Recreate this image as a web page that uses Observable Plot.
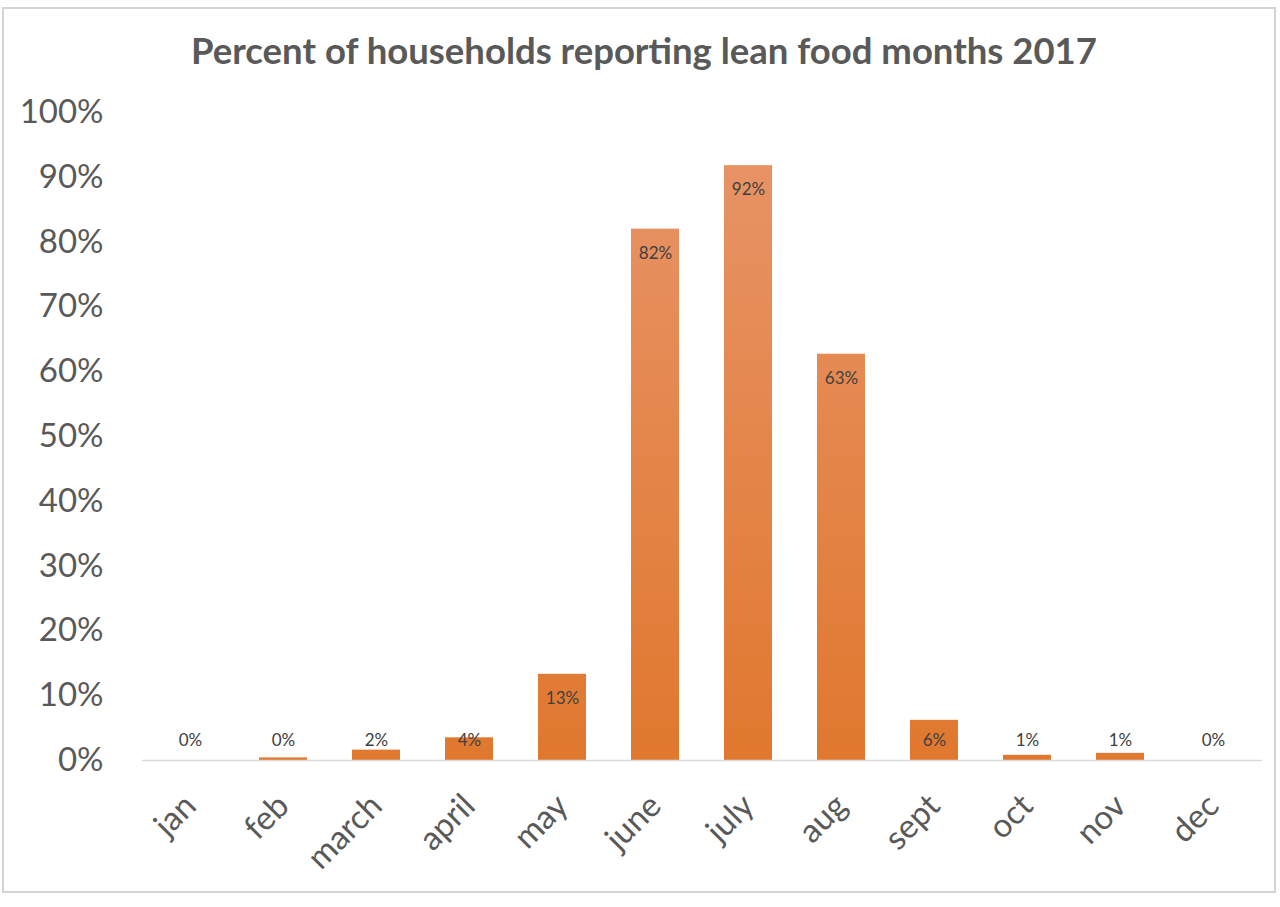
<!DOCTYPE html>
<html>
<head>
<meta charset="utf-8">
<script src="https://cdn.jsdelivr.net/npm/d3@7"></script>
<script src="https://cdn.jsdelivr.net/npm/@observablehq/plot@0.6"></script>
<style>
  html, body { margin: 0; padding: 0; background: #fff; }
  #frame { position: absolute; left: 2px; top: 7px; width: 1274px; height: 886px; border: 2px solid #d4d4d4; box-sizing: border-box; }
  #title { position: absolute; left: 0; top: 27px; width: 1288px; text-align: center; font-family: Lato, "Open Sans", sans-serif; font-weight: bold; font-size: 36.5px; color: #595959; line-height: 46px; }
  #chart { position: absolute; left: 0; top: 75px; }
</style>
</head>
<body>
<div id="frame"></div>
<div id="title">Percent of households reporting lean food months 2017</div>
<div id="chart"></div>
<script>
const months = ["jan","feb","march","april","may","june","july","aug","sept","oct","nov","dec"];
const values = [0, 0.4, 1.6, 3.5, 13.3, 82, 91.8, 62.7, 6.2, 0.8, 1.1, 0];
const labels = ["0%","0%","2%","4%","13%","82%","92%","63%","6%","1%","1%","0%"];
const yTicks = [0,10,20,30,40,50,60,70,80,90,100];

const data = months.map((m, i) => ({month: m, value: values[i], label: labels[i]}));

const plot = Plot.plot({
  width: 1280,
  height: 815,
  marginTop: 37,
  marginBottom: 130,
  marginLeft: 142,
  marginRight: 18,
  style: {fontFamily: "Lato, 'Open Sans', sans-serif", background: "transparent"},
  x: {domain: months, paddingInner: 0.48, paddingOuter: 0.24, label: null},
  y: {domain: [0, 100], label: null},
  marks: [
    Plot.barY(data, {x: "month", y: "value", fill: "url(#barGrad)"}),
    Plot.ruleY([0], {stroke: "#d9d9d9", strokeWidth: 1.5}),
    Plot.text(data, {
      x: "month",
      y: d => Math.max(d.value - 3.7, 3.1),
      text: "label",
      fill: "#404040",
      fontSize: 17
    }),
    Plot.axisY({
      ticks: yTicks,
      tickFormat: d => d + "%",
      tickSize: 0,
      tickPadding: 39,
      fontSize: 33,
      fill: "#595959"
    }),
    Plot.axisX({
      tickSize: 0,
      tickPadding: 40,
      tickRotate: -45,
      fontSize: 33,
      fill: "#595959"
    })
  ]
});

plot.insertAdjacentHTML("afterbegin",
  '<defs><linearGradient id="barGrad" gradientUnits="userSpaceOnUse" x1="0" y1="37" x2="0" y2="685">' +
  '<stop offset="0" stop-color="#e8956a"/>' +
  '<stop offset="1" stop-color="#e0782e"/>' +
  '</linearGradient></defs>');

document.getElementById("chart").appendChild(plot);
</script>
</body>
</html>
